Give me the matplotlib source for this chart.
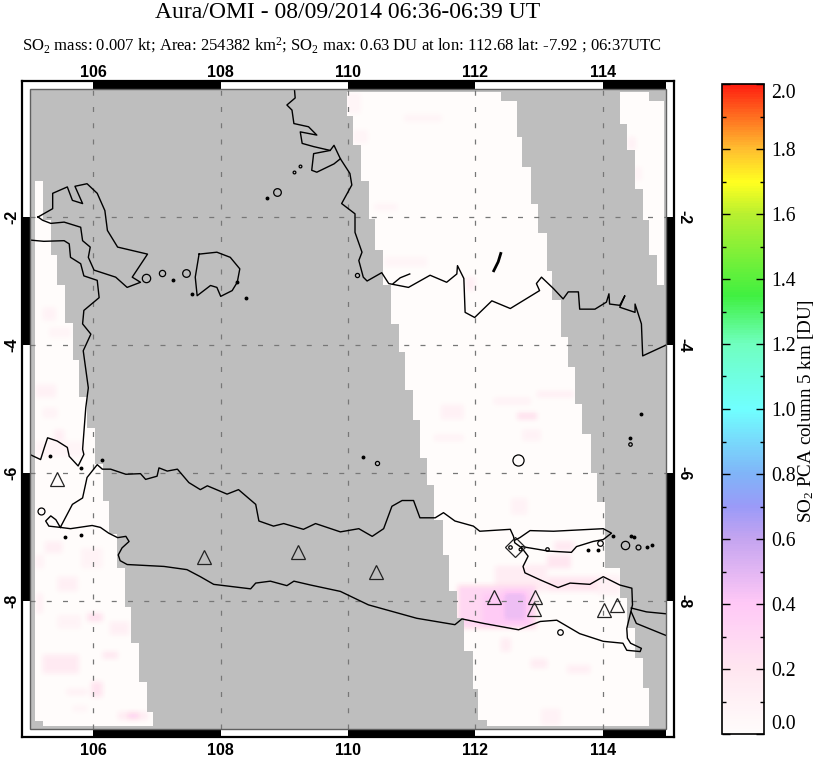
import numpy as np
import matplotlib
matplotlib.use('Agg')
import matplotlib.pyplot as plt
from matplotlib.colors import LinearSegmentedColormap, Normalize
from matplotlib.cm import ScalarMappable
from matplotlib.patches import Rectangle

plt.rcParams['font.family'] = ['Liberation Serif', 'DejaVu Sans']
plt.rcParams['mathtext.fontset'] = 'custom'
plt.rcParams['mathtext.rm'] = 'Liberation Serif'
plt.rcParams['mathtext.it'] = 'Liberation Serif'
plt.rcParams['mathtext.bf'] = 'Liberation Serif:bold'

W, H = 823, 759

# titles
title = 'Aura/OMI - 08/09/2014 06:36-06:39 UT'
subtitle = (r'SO$_2$ mass: 0.007 kt; Area: 254382 km$^2$; SO$_2$ max: 0.63 DU '
            r'at lon: 112.68 lat: -7.92 ; 06:37UTC')
cbar_label = r'SO$_2$ PCA column 5 km [DU]'

# colour scale
cmap_values = [0.0, 0.2, 0.4, 0.6, 0.7, 0.8, 1.0, 1.2, 1.35, 1.6, 1.7, 1.8, 2.0]
cmap_colors = ['#FFFCFB', '#FFE6F0', '#FFC8F6', '#C4A4F0', '#9A9AF8', '#80B4F8', '#70FFFF',
               '#70FFC0', '#40F040', '#B8F030', '#FFFF20', '#FFC030', '#FF2010']

# left swath rows: lat top, lat bottom, west lon, east lon
swath_left = [(-1.44, -2.04, 105.08, 105.21), (-2.04, -2.60, 105.08, 105.33),
              (-2.60, -3.07, 105.08, 105.42), (-3.07, -3.66, 105.08, 105.55),
              (-3.66, -4.23, 105.08, 105.67), (-4.23, -4.82, 105.08, 105.77),
              (-4.82, -5.30, 105.08, 105.89), (-5.30, -5.86, 105.08, 106.02),
              (-5.86, -6.44, 105.08, 106.15), (-6.44, -6.96, 105.08, 106.24),
              (-6.96, -7.48, 105.08, 106.37), (-7.48, -8.09, 105.08, 106.49),
              (-8.09, -8.66, 105.08, 106.58), (-8.66, -9.26, 105.08, 106.71),
              (-9.26, -9.73, 105.08, 106.84), (-9.73, -9.87, 105.08, 106.93),
              (-9.87, -9.95, 105.21, 106.93)]

# middle swath edges: lat top, lat bottom, lon
swath_mid_west = [(-0.05, -0.42, 109.97), (-0.42, -0.88, 110.07), (-0.88, -1.44, 110.19),
                  (-1.44, -2.03, 110.32), (-2.03, -2.51, 110.41), (-2.51, -3.07, 110.54),
                  (-3.07, -3.67, 110.66), (-3.67, -4.11, 110.79), (-4.11, -4.70, 110.88),
                  (-4.70, -5.17, 111.01), (-5.17, -5.76, 111.13), (-5.76, -6.18, 111.23),
                  (-6.18, -6.74, 111.35), (-6.74, -7.28, 111.48), (-7.28, -7.85, 111.57),
                  (-7.85, -8.26, 111.70), (-8.26, -8.78, 111.82), (-8.78, -9.37, 111.95),
                  (-9.37, -9.86, 112.04), (-9.86, -9.95, 112.17)]
swath_mid_east = [(-0.05, -0.18, 112.39), (-0.18, -0.75, 112.64), (-0.75, -1.22, 112.73),
                  (-1.22, -1.79, 112.86), (-1.79, -2.25, 112.98), (-2.25, -2.85, 113.11),
                  (-2.85, -3.30, 113.20), (-3.30, -3.88, 113.33), (-3.88, -4.35, 113.45),
                  (-4.35, -4.92, 113.55), (-4.92, -5.39, 113.67), (-5.39, -6.00, 113.80),
                  (-6.00, -6.45, 113.90), (-6.45, -7.49, 114.02), (-7.49, -7.95, 114.27),
                  (-7.95, -8.42, 114.37), (-8.42, -8.89, 114.49), (-8.89, -9.36, 114.62),
                  (-9.36, -9.95, 114.71)]

# right swath rows
swath_right = [(-0.05, -0.18, 114.27, 114.71), (-0.18, -0.54, 114.27, 114.96),
               (-0.54, -0.96, 114.37, 114.96), (-0.96, -1.57, 114.49, 114.96),
               (-1.57, -2.04, 114.62, 114.96), (-2.04, -2.60, 114.71, 114.96),
               (-2.60, -3.07, 114.84, 114.96)]

# SO2 patches: lon west, lon east, lat top, lat bottom, DU (weak first)
so2_patches = [
    (110.56, 111.24, -2.62, -2.78, 0.06), (110.87, 111.47, -0.40, -0.51, 0.07),
    (109.98, 110.19, -0.07, -0.38, 0.07), (110.07, 110.30, -0.64, -0.85, 0.07),
    (114.38, 114.51, -0.75, -0.95, 0.10), (114.48, 114.61, -1.22, -1.43, 0.07),
    (110.40, 110.77, -1.79, -1.90, 0.07), (111.84, 111.99, -2.94, -3.15, 0.12),
    (111.45, 111.81, -4.93, -5.16, 0.10), (111.34, 111.81, -5.40, -5.50, 0.09),
    (112.96, 113.54, -4.72, -4.82, 0.12), (112.28, 112.86, -4.82, -4.93, 0.09),
    (112.73, 113.02, -5.32, -5.50, 0.09), (112.65, 112.96, -5.06, -5.16, 0.26),
    (112.55, 112.81, -6.39, -6.65, 0.09), (113.02, 113.33, -9.68, -9.94, 0.09),
    (113.43, 113.80, -9.00, -9.13, 0.12), (112.86, 113.12, -8.90, -9.05, 0.14),
    (112.39, 112.55, -8.58, -8.79, 0.14), (112.81, 113.12, -7.43, -7.59, 0.12),
    (113.23, 113.54, -7.07, -7.22, 0.17), (113.12, 113.49, -7.28, -7.49, 0.20),
    (112.30, 113.10, -7.45, -7.85, 0.14), (113.12, 114.06, -7.62, -7.85, 0.20),
    (113.90, 114.27, -7.60, -7.90, 0.10), (111.71, 112.95, -7.75, -8.43, 0.30),
    (112.10, 112.85, -7.88, -8.40, 0.38), (112.44, 112.78, -7.85, -8.30, 0.46),
    (105.20, 105.41, -3.41, -3.62, 0.09), (105.30, 105.64, -3.73, -3.88, 0.07),
    (105.09, 105.41, -4.62, -4.82, 0.10), (105.20, 105.43, -4.98, -5.14, 0.08),
    (105.38, 105.54, -5.32, -5.50, 0.12), (105.08, 105.85, -5.50, -5.75, 0.06),
    (105.80, 106.14, -7.17, -7.49, 0.08), (105.23, 105.51, -7.07, -7.25, 0.12),
    (105.08, 105.22, -7.28, -7.49, 0.09), (105.43, 105.75, -7.62, -7.85, 0.11),
    (105.10, 105.20, -7.88, -8.19, 0.12), (105.43, 105.80, -8.22, -8.43, 0.08),
    (106.25, 106.56, -8.32, -8.53, 0.11), (105.90, 106.14, -8.19, -8.32, 0.24),
    (105.20, 105.77, -8.84, -9.13, 0.16), (106.14, 106.38, -8.79, -8.90, 0.18),
    (105.96, 106.14, -9.26, -9.50, 0.22), (105.57, 105.90, -9.37, -9.47, 0.10),
    (105.67, 105.90, -9.63, -9.73, 0.07), (106.38, 106.85, -9.73, -9.86, 0.14),
    (106.53, 106.71, -9.74, -9.85, 0.32),
]

# coastlines, lon then lat
java_lon = [105.48, 105.67, 105.83, 105.90, 106.06, 106.14, 106.27, 106.51, 106.74, 106.82, 107.00, 107.03,
            107.16, 107.32, 107.50, 107.68, 107.79, 108.10, 108.28, 108.55, 108.60, 108.83, 108.99, 109.30,
            109.49, 109.88, 110.17, 110.38, 110.56, 110.69, 110.85, 111.03, 111.13, 111.37, 111.50, 111.68,
            111.97, 112.07, 112.55, 112.60, 112.62, 112.73, 112.83, 112.75, 112.78, 113.02, 113.30, 113.49,
            113.80, 114.01, 114.27, 114.46, 114.47, 114.38, 114.39, 114.44, 114.61, 114.59, 114.38, 114.32,
            114.01, 113.64, 113.28, 113.02, 112.68, 112.13, 111.79, 111.68, 111.08, 110.32, 109.88, 109.41,
            109.15, 109.04, 108.78, 108.55, 108.47, 107.89, 107.68, 107.47, 107.11, 106.53, 106.42, 106.39,
            106.45, 106.56, 106.51, 106.38, 106.24, 106.11, 105.98, 105.64, 105.48, 105.41, 105.33, 105.25,
            105.30, 105.48]
java_lat = [-6.85, -6.49, -6.39, -6.07, -5.87, -5.94, -5.94, -6.02, -6.01, -6.10, -6.05, -5.92,
            -5.97, -5.94, -6.15, -6.26, -6.20, -6.33, -6.26, -6.49, -6.75, -6.83, -6.79, -6.88,
            -6.79, -6.92, -6.87, -6.99, -6.87, -6.52, -6.43, -6.43, -6.70, -6.70, -6.62, -6.75,
            -6.83, -6.91, -6.88, -6.99, -7.09, -7.17, -7.30, -7.46, -7.56, -7.67, -7.79, -7.72,
            -7.74, -7.62, -7.75, -7.80, -8.06, -8.43, -8.58, -8.66, -8.74, -8.79, -8.77, -8.66,
            -8.63, -8.51, -8.30, -8.32, -8.45, -8.35, -8.28, -8.37, -8.27, -8.06, -7.85, -7.75,
            -7.69, -7.76, -7.69, -7.72, -7.81, -7.74, -7.62, -7.51, -7.46, -7.43, -7.37, -7.28,
            -7.17, -7.07, -6.99, -7.01, -6.94, -6.85, -6.82, -6.87, -6.85, -6.73, -6.67, -6.75,
            -6.83, -6.85]

madura_lon = [112.62, 112.70, 112.86, 113.23, 114.01, 114.14, 114.01, 113.85, 113.59, 113.51, 113.15, 112.73]
madura_lat = [-7.05, -7.01, -6.90, -6.91, -6.87, -6.94, -7.04, -7.07, -7.15, -7.24, -7.22, -7.15]

bali_n_lon = [114.45, 114.69, 115.0]
bali_n_lat = [-8.11, -8.17, -8.20]
bali_s_lon = [114.45, 114.53, 115.0]
bali_s_lat = [-8.17, -8.35, -8.54]

sumatra_lon = [105.0, 105.22, 105.54, 105.62, 105.64, 105.80, 105.85, 106.06, 106.09, 105.85, 105.83, 105.96,
               105.84, 105.92, 105.88, 105.83, 105.85, 105.76, 105.62, 105.59, 105.43, 105.28, 105.23, 105.17, 105.0]
sumatra_lat = [-2.36, -2.38, -2.37, -2.42, -2.63, -2.73, -2.92, -2.99, -3.26, -3.46, -3.67, -3.83,
               -4.09, -4.67, -4.98, -5.63, -5.71, -5.89, -5.74, -5.60, -5.50, -5.45, -5.60, -5.79, -5.71]

bangka_lon = [105.13, 105.36, 105.36, 105.59, 105.67, 105.83, 105.71, 105.90, 106.06, 106.18, 106.22, 106.38,
              106.85, 106.61, 106.74, 106.53, 106.35, 106.01, 105.92, 105.95, 105.83, 105.80, 105.54, 105.33,
              105.20, 105.13]
bangka_lat = [-2.00, -1.87, -1.63, -1.53, -1.74, -1.79, -1.52, -1.48, -1.63, -1.90, -2.21, -2.47,
              -2.58, -2.94, -3.02, -3.10, -2.94, -2.83, -2.63, -2.47, -2.37, -2.16, -2.08, -2.10,
              -2.05, -2.00]

belitung_lon = [107.66, 107.94, 108.15, 108.30, 108.26, 108.18, 108.00, 107.94, 107.84, 107.63, 107.60, 107.66]
belitung_lat = [-2.58, -2.55, -2.63, -2.81, -3.02, -3.15, -3.24, -3.10, -3.07, -3.23, -2.94, -2.58]

borneo_lon = [109.16, 109.17, 109.04, 109.12, 109.15, 109.38, 109.51, 109.25, 109.28, 109.46, 109.72, 109.78,
              109.88, 110.03, 110.06, 109.90, 110.11, 110.11, 110.22, 110.17, 110.24, 110.30, 110.53, 110.64,
              110.95, 111.29, 111.55, 111.71, 111.72, 111.82, 111.84, 111.99, 112.26, 112.55, 113.01, 112.96,
              113.04, 113.23, 113.38, 113.46, 113.62, 113.64, 113.88, 114.06, 114.10, 114.11, 114.27, 114.35,
              114.27, 114.51, 114.51, 114.61, 114.63, 115.0]
borneo_lat = [-0.02, -0.14, -0.25, -0.33, -0.54, -0.59, -0.72, -0.67, -0.85, -0.90, -0.96, -0.88,
              -1.09, -1.32, -1.50, -1.79, -1.95, -2.24, -2.55, -2.68, -2.94, -3.00, -2.87, -3.04,
              -3.10, -2.91, -3.02, -2.89, -2.76, -2.96, -3.49, -3.57, -3.31, -3.43, -3.15, -3.04,
              -2.94, -3.12, -3.28, -3.17, -3.17, -3.44, -3.44, -3.33, -3.20, -3.36, -3.38, -3.23,
              -3.41, -3.49, -3.36, -3.67, -4.17, -4.00]

maya_lon = [109.72, 109.46, 109.43, 109.51, 109.78, 109.88]
maya_lat = [-0.96, -1.01, -1.27, -1.30, -1.17, -1.09]

karimun_lon = [112.40, 112.36, 112.29]
karimun_lat = [-2.57, -2.70, -2.84]
stub_lon = [110.71, 110.82, 110.97]
stub_lat = [-3.04, -2.95, -2.89]

# small islands
ring_lon = [108.89, 109.15, 109.25, 107.08, 106.82, 107.45, 110.14, 112.67, 114.35, 114.56, 113.33, 113.12,
            113.96, 110.45, 114.43, 105.18, 112.55, 112.70]
ring_lat = [-1.61, -1.30, -1.20, -2.87, -2.96, -2.87, -2.90, -5.80, -7.12, -7.16, -8.48, -7.18,
            -7.09, -5.84, -5.55, -6.60, -7.15, -7.18]
ring_size = [5.5, 2, 2, 4.5, 6, 5.5, 3, 8, 6, 3.5, 4, 2.5, 4, 3, 2.5, 5, 2.5, 2]
dot_lon = [108.73, 107.25, 107.55, 108.40, 110.24, 114.17, 114.45, 114.50, 114.77, 114.69, 113.77, 113.93,
           114.61, 114.43, 105.56, 105.80, 105.32, 105.81, 108.26, 106.13]
dot_lat = [-1.71, -2.99, -3.21, -3.26, -5.75, -6.99, -6.98, -7.00, -7.13, -7.16, -7.21, -7.20,
           -5.08, -5.45, -7.00, -6.97, -5.74, -5.92, -3.02, -5.79]

# volcanoes
volcano_lon = [105.43, 107.73, 109.22, 110.44, 112.30, 112.94, 112.92, 114.03, 114.23]
volcano_lat = [-6.10, -7.31, -7.24, -7.54, -7.93, -7.94, -8.12, -8.14, -8.06]
diamond_lon = [112.62]
diamond_lat = [-7.16]

x_ticks = [106, 108, 110, 112, 114]
y_ticks = [-2, -4, -6, -8]
cbar_ticks = [0.0, 0.2, 0.4, 0.6, 0.8, 1.0, 1.2, 1.4, 1.6, 1.8, 2.0]
cbar_minor = [0.1, 0.3, 0.5, 0.7, 0.9, 1.1, 1.3, 1.5, 1.7, 1.9]

cmap = LinearSegmentedColormap.from_list(
    'so2', [(v / 2.0, c) for v, c in zip(cmap_values, cmap_colors)], N=256)
cmap.set_bad('#BEBEBE')
norm = Normalize(0, 2)

# fill the grid from the tables above
step = 0.01
lons = np.arange(105, 115, step) + step / 2
lats = np.arange(-10, 0, step) + step / 2
swath = np.zeros((lats.size, lons.size), dtype=bool)
so2 = np.zeros_like(swath, dtype=float)


def cells(lon0, lon1, lat_top, lat_bot):
    jj = (lons >= lon0) & (lons < lon1)
    ii = (lats <= lat_top) & (lats > lat_bot)
    return np.ix_(ii, jj)


for top, bot, west in swath_mid_west:
    swath[cells(west, 115, top, bot)] = True
for top, bot, east in swath_mid_east:
    swath[cells(east, 115, top, bot)] = False
for top, bot, west, east in swath_left + swath_right:
    swath[cells(west, east, top, bot)] = True

for west, east, top, bot, value in so2_patches:
    so2[cells(west, east, top, bot)] = value


def box_blur(a, radius):
    # soften the patches a little, like the compressed original
    kernel = np.ones(2 * radius + 1) / (2 * radius + 1)
    a = np.apply_along_axis(lambda r: np.convolve(r, kernel, mode='same'), 0, a)
    return np.apply_along_axis(lambda r: np.convolve(r, kernel, mode='same'), 1, a)


so2 = box_blur(box_blur(so2, 4), 4)
grid = np.where(swath, so2, np.nan)

fig = plt.figure(figsize=(W / 100, H / 100), dpi=100)

# map axes, outer frame 22..674 x 81..737 px
ax = fig.add_axes([22 / W, 1 - 737 / H, 652 / W, 656 / H])
band_x = 0.122
band_y = 0.125
ax.imshow(grid, origin='lower', extent=[105, 115, -10, 0], cmap=cmap, norm=norm,
          interpolation='nearest', aspect='auto', zorder=1)
ax.set_xlim(105 - band_x, 115 + band_x)
ax.set_ylim(-10 - band_y, band_y)

# checkered frame
x_edges = [105, 106, 108, 110, 112, 114, 115]
y_edges = [0, -2, -4, -6, -8, -10]
for i in range(len(x_edges) - 1):
    col = 'black' if i % 2 == 1 else 'white'
    for y0 in (0, -10 - band_y):
        ax.add_patch(Rectangle((x_edges[i], y0), x_edges[i + 1] - x_edges[i], band_y, fc=col, ec='none', zorder=3))
for i in range(len(y_edges) - 1):
    col = 'black' if i % 2 == 1 else 'white'
    for x0 in (105 - band_x, 115):
        ax.add_patch(Rectangle((x0, y_edges[i + 1]), band_x, y_edges[i] - y_edges[i + 1], fc=col, ec='none', zorder=3))
ax.add_patch(Rectangle((105, -10), 10, 10, fc='none', ec='#606060', lw=1.0, zorder=4))
for s in ax.spines.values():
    s.set_linewidth(1.6)
    s.set_zorder(5)

# graticule
for lon in x_ticks:
    ax.plot([lon, lon], [-10, 0], color='#777777', lw=0.9, dashes=(4, 9), zorder=2)
for lat in y_ticks:
    ax.plot([105, 115], [lat, lat], color='#777777', lw=0.9, dashes=(4, 9), zorder=2)

# coasts
coasts = [(java_lon, java_lat), (madura_lon, madura_lat), (bali_n_lon, bali_n_lat), (bali_s_lon, bali_s_lat),
          (sumatra_lon, sumatra_lat), (bangka_lon, bangka_lat), (belitung_lon, belitung_lat),
          (borneo_lon, borneo_lat), (maya_lon, maya_lat), (stub_lon, stub_lat)]
for xs, ys in coasts:
    ax.plot(xs, ys, color='black', lw=1.0, zorder=2.5, solid_joinstyle='round')
ax.plot(karimun_lon, karimun_lat, color='black', lw=2.0, zorder=2.5)
for xx, yy, ss in zip(ring_lon, ring_lat, ring_size):
    ax.plot(xx, yy, 'o', ms=ss, mfc='none', mec='black', mew=0.9, zorder=2.5)
ax.plot(dot_lon, dot_lat, 'o', ms=1.8, color='black', zorder=2.5, ls='none')

# volcano markers
ax.plot(volcano_lon, volcano_lat, '^', ms=10.5, mfc='none', mec='#222222', mew=0.9, ls='none', zorder=2.6)
ax.plot(diamond_lon, diamond_lat, 'D', ms=10.5, mfc='none', mec='#222222', mew=0.9, ls='none', zorder=2.6)

ax.set_xticks([])
ax.set_yticks([])

# tick labels outside the frame
tick_font = dict(family=['Liberation Sans', 'DejaVu Sans'], fontsize=11.5, fontweight='bold', color='black')
for lon in x_ticks:
    ax.annotate(str(lon), (lon, band_y), xytext=(0, 1), textcoords='offset points', ha='center', va='bottom',
                annotation_clip=False, **tick_font)
    ax.annotate(str(lon), (lon, -10 - band_y), xytext=(0, -4), textcoords='offset points', ha='center', va='top',
                annotation_clip=False, **tick_font)
for lat in y_ticks:
    ax.annotate(str(lat), (105 - band_x, lat), xytext=(-2, 0), textcoords='offset points', ha='right', va='center',
                rotation=90, annotation_clip=False, **tick_font)
    ax.annotate(str(lat), (115 + band_x, lat), xytext=(1.5, 0), textcoords='offset points', ha='left', va='center',
                rotation=270, annotation_clip=False, **tick_font)

fig.text(348 / W, 1 - 13 / H, title, ha='center', va='center', fontsize=17)
fig.text(22 / W, 1 - 45 / H, subtitle, ha='left', va='center', fontsize=12)

# colour bar
cax = fig.add_axes([722 / W, 1 - 734 / H, 42 / W, 650 / H])
cb = fig.colorbar(ScalarMappable(norm=norm, cmap=cmap), cax=cax)
cb.outline.set_linewidth(1.2)
cax.set_yticks(cbar_ticks)
cax.set_yticks(cbar_minor, minor=True)
cax.set_yticklabels(['%.1f' % v for v in cbar_ticks], fontsize=14.2)
cax.tick_params(axis='y', which='major', direction='in', left=True, right=True, length=6, width=1, pad=5)
cax.tick_params(axis='y', which='minor', direction='in', left=True, right=True, length=3, width=1)
labels = cax.get_yticklabels()
labels[0].set_va('bottom')
labels[-1].set_va('top')
fig.text(806 / W, 1 - 411 / H, cbar_label, rotation=90, ha='center', va='center', fontsize=13.7)

fig.savefig('out.png', dpi=100)
